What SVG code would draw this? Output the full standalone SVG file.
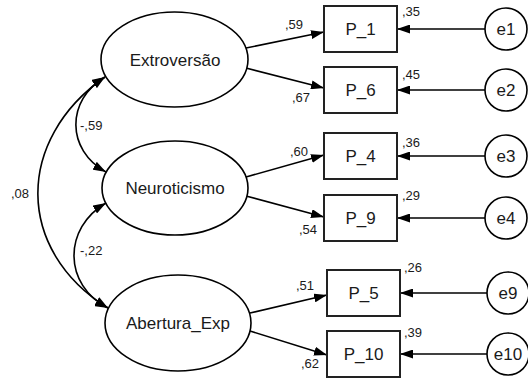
<svg xmlns="http://www.w3.org/2000/svg" width="528" height="378" viewBox="0 0 528 378">
<style>
.lat{fill:#fff;stroke:#000;stroke-width:1.6}
.box{fill:#fff;stroke:#222;stroke-width:2}
.err{fill:#fff;stroke:#000;stroke-width:1.6}
.t{font-family:"Liberation Sans",Arial,sans-serif;fill:#1a1a1a}
.big{font-size:17px;text-anchor:middle}
.num{font-size:13px}
.c{fill:none;stroke:#000;stroke-width:1.6;marker-end:url(#ah)}
.cv{fill:none;stroke:#000;stroke-width:1.6;marker-start:url(#ah);marker-end:url(#ah)}
</style>
<defs>
<marker id="ah" viewBox="0 0 13 9" refX="13" refY="4.5" markerWidth="13" markerHeight="9" orient="auto-start-reverse" markerUnits="userSpaceOnUse"><path d="M0,0 L13,4.5 L0,9 z" fill="#000"/></marker>
</defs>
<rect width="528" height="378" fill="#fff"/>
<g id="connectors">
<path class="c" d="M246,48 L324,32"/>
<path class="c" d="M246,68 L324,88"/>
<path class="c" d="M246,177 L324,155"/>
<path class="c" d="M246,196 L324,217"/>
<path class="c" d="M250,313 L327,295"/>
<path class="c" d="M250,331 L327,355"/>
<path class="c" d="M485,29 L397,29"/>
<path class="c" d="M485,90 L397,90"/>
<path class="c" d="M485,156 L397,156"/>
<path class="c" d="M485,218 L397,218"/>
<path class="c" d="M487,293 L400,293"/>
<path class="c" d="M487,354 L400,354"/>
<path class="cv" d="M105,77 C66,100 66,150 106,172"/>
<path class="cv" d="M106,203 C63,228 63,285 108,308"/>
<path class="cv" d="M105,77 C15,140 15,250 108,308"/>
<text class="t num" x="80" y="130">-,59</text>
<text class="t num" x="80" y="255">-,22</text>
<text class="t num" x="11" y="198">,08</text>
<text class="t num" x="285" y="29">,59</text>
<text class="t num" x="292" y="102">,67</text>
<text class="t num" x="290" y="156">,60</text>
<text class="t num" x="299" y="234">,54</text>
<text class="t num" x="296" y="290">,51</text>
<text class="t num" x="301" y="368">,62</text>
</g>
<g id="Extroversao"><ellipse class="lat" cx="174.5" cy="59.5" rx="73.5" ry="47.5"/><text class="t big" x="175" y="66">Extroversão</text></g>
<g id="Neuroticismo"><ellipse class="lat" cx="175" cy="188" rx="73" ry="47"/><text class="t big" x="175" y="194">Neuroticismo</text></g>
<g id="Abertura_Exp"><ellipse class="lat" cx="178" cy="323" rx="73" ry="48"/><text class="t big" x="178" y="329">Abertura_Exp</text></g>
<g id="P_1"><rect class="box" x="324" y="6" width="73" height="46"/><text class="t big" x="360.5" y="35">P_1</text><text class="t num" x="402" y="16">,35</text></g>
<g id="P_6"><rect class="box" x="324" y="67" width="73" height="46"/><text class="t big" x="360.5" y="96">P_6</text><text class="t num" x="402" y="79">,45</text></g>
<g id="P_4"><rect class="box" x="324" y="133" width="73" height="46"/><text class="t big" x="360.5" y="162">P_4</text><text class="t num" x="402" y="147">,36</text></g>
<g id="P_9"><rect class="box" x="324" y="195" width="73" height="46"/><text class="t big" x="360.5" y="224">P_9</text><text class="t num" x="402" y="200">,29</text></g>
<g id="P_5"><rect class="box" x="327" y="270" width="73" height="46"/><text class="t big" x="363.5" y="299">P_5</text><text class="t num" x="404" y="272">,26</text></g>
<g id="P_10"><rect class="box" x="327" y="331" width="73" height="46"/><text class="t big" x="363.5" y="360">P_10</text><text class="t num" x="404" y="337">,39</text></g>
<g id="e1"><circle class="err" cx="506" cy="29" r="21"/><text class="t big" x="506" y="35">e1</text></g>
<g id="e2"><circle class="err" cx="506" cy="90" r="21"/><text class="t big" x="506" y="96">e2</text></g>
<g id="e3"><circle class="err" cx="506" cy="156" r="21"/><text class="t big" x="506" y="162">e3</text></g>
<g id="e4"><circle class="err" cx="506" cy="218" r="21"/><text class="t big" x="506" y="224">e4</text></g>
<g id="e9"><circle class="err" cx="508" cy="293" r="21"/><text class="t big" x="508" y="299">e9</text></g>
<g id="e10"><circle class="err" cx="508" cy="354" r="21"/><text class="t big" x="508" y="360">e10</text></g>
</svg>
